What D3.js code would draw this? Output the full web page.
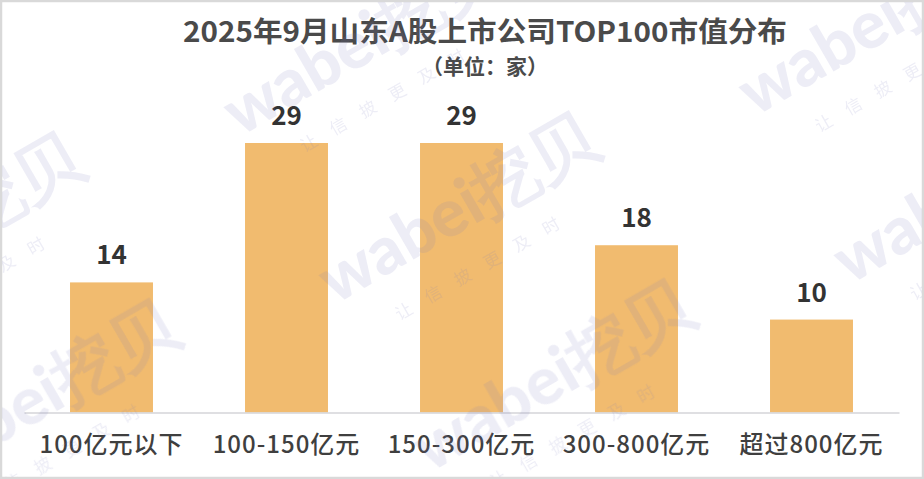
<!DOCTYPE html>
<html>
<head>
<meta charset="utf-8">
<script src="https://cdn.jsdelivr.net/npm/d3@7"></script>
<style>
  html, body { margin: 0; padding: 0; background: #fff; }
  svg { display: block; }
</style>
</head>
<body>
<svg id="chart" width="924" height="479"></svg>
<script>
const titleText = "2025年9月山东A股上市公司TOP100市值分布";
const subtitleText = "（单位：家）";
const categories = ["100亿元以下", "100-150亿元", "150-300亿元", "300-800亿元", "超过800亿元"];
const values = [14, 29, 29, 18, 10];
const watermarkMain = "wabei挖贝";
const watermarkSub = "让信披更及时";

const W = 924, H = 479;
const svg = d3.select("#chart");
const font = "'Noto Sans CJK SC', 'Noto Sans', sans-serif";

// frame
svg.append("rect").attr("x", 1).attr("y", 1).attr("width", W - 2).attr("height", H - 2)
  .attr("fill", "#fff").attr("stroke", "#d9d9d9").attr("stroke-width", 2.5);

svg.append("clipPath").attr("id", "inner")
  .append("rect").attr("x", 2).attr("y", 2).attr("width", W - 4).attr("height", H - 4);

const x = d3.scaleBand().domain(categories).range([24, 899]).paddingInner(0.526).paddingOuter(0.263);
const y = d3.scaleLinear().domain([0, d3.max(values)]).range([412.5, 143]);

// bars
svg.append("g").selectAll("rect").data(values).join("rect")
  .attr("x", (d, i) => x(categories[i]))
  .attr("y", d => y(d))
  .attr("width", x.bandwidth())
  .attr("height", d => y(0) - y(d))
  .attr("fill", "#F1BB6F");

// axis
const xAxis = d3.axisBottom(x).tickSize(0).tickPadding(0);
const ax = svg.append("g").attr("transform", `translate(0,${y(0)})`).call(xAxis);
ax.select(".domain").attr("stroke", "#d4d4d8").attr("stroke-width", 1.6);
ax.selectAll(".tick text")
  .attr("y", 40).attr("dy", 0)
  .attr("font-family", font).attr("font-size", 24).attr("font-weight", 500)
  .attr("letter-spacing", "1px")
  .attr("fill", "#3f3f3f");

// value labels
svg.append("g").selectAll("text").data(values).join("text")
  .attr("x", (d, i) => x(categories[i]) + x.bandwidth() / 2)
  .attr("y", d => y(d) - 18)
  .attr("text-anchor", "middle")
  .attr("font-family", font).attr("font-size", 26).attr("font-weight", 600)
  .attr("fill", "#333")
  .text(d => d);

// title
svg.append("text").attr("x", 485).attr("y", 42).attr("text-anchor", "middle")
  .attr("font-family", font).attr("font-size", 28).attr("font-weight", 700)
  .attr("fill", "#4a4a4a")
  .attr("textLength", 604).attr("lengthAdjust", "spacingAndGlyphs")
  .text(titleText);
svg.append("text").attr("x", 485).attr("y", 74).attr("text-anchor", "middle")
  .attr("font-family", font).attr("font-size", 21).attr("font-weight", 700)
  .attr("fill", "#4a4a4a")
  .text(subtitleText);

// watermark
const wm = svg.append("g").attr("clip-path", "url(#inner)")
  .attr("opacity", 0.14).attr("pointer-events", "none");
const base = [335, 305], hv = [515, -20], vv = [95, 168];
for (let i = -1; i <= 1; i++) {
  for (let j = -1; j <= 1; j++) {
    const px = base[0] + i * hv[0] + j * vv[0];
    const py = base[1] + i * hv[1] + j * vv[1];
    const g = wm.append("g").attr("transform", `translate(${px},${py}) rotate(-30)`);
    g.append("text").attr("x", 0).attr("y", 0)
      .attr("font-family", "Lato, 'Liberation Sans', sans-serif").attr("font-weight", 900)
      .attr("font-size", 66).attr("fill", "#7f7fbf")
      .text(watermarkMain);
    g.append("text").attr("x", 48).attr("y", 46)
      .attr("font-family", font).attr("font-size", 17)
      .attr("letter-spacing", "17px").attr("fill", "#7f7fbf")
      .text(watermarkSub);
  }
}
</script>
</body>
</html>
